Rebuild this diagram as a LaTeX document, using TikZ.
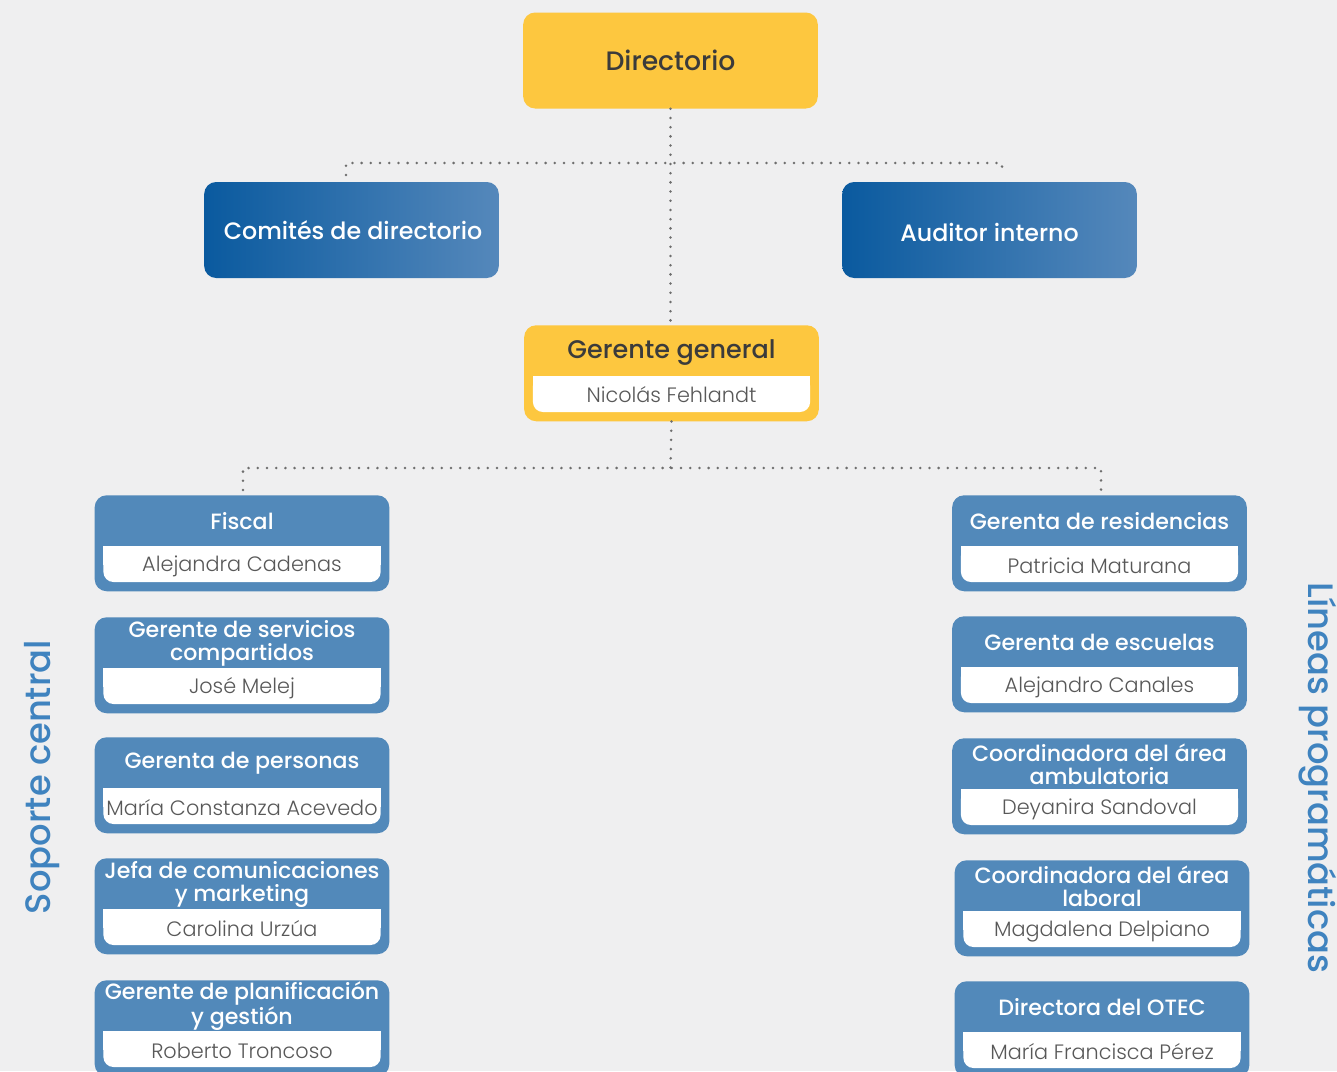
\documentclass[tikz,border=0pt]{standalone}
\usepackage{fontspec}
\setmainfont{Poppins}
\newfontfamily\medfont{Poppins Medium}
\newfontfamily\lightfont{Poppins Light}
\usetikzlibrary{calc}
\definecolor{bg}{HTML}{EFEFF0}
\definecolor{gold}{HTML}{FDC73F}
\definecolor{steel}{HTML}{5289BA}
\definecolor{navy}{HTML}{0A5A9F}
\definecolor{sky}{HTML}{5588BB}
\definecolor{ink}{HTML}{3B3B3B}
\definecolor{namegray}{HTML}{585858}
\definecolor{sidetext}{HTML}{3F83BF}
\definecolor{dotgray}{HTML}{6E6E6E}
\tikzset{
  goldbox/.style={fill=gold, rounded corners=9pt, minimum width=221pt, minimum height=72pt, inner sep=0pt},
  gradbox/.style={left color=navy, right color=sky, rounded corners=9pt, minimum width=221pt, minimum height=72pt, inner sep=0pt},
  bluebox/.style={fill=steel, rounded corners=9pt, minimum width=221pt, minimum height=72pt, inner sep=0pt},
  bar/.style={fill=white},
  ttl/.style={text=white, font=\medfont\fontsize{16.6}{17.25}\selectfont, align=center},
  ttlw/.style={text=white, font=\medfont\fontsize{17.8}{20}\selectfont},
  ttld/.style={text=ink, font=\medfont\fontsize{20}{22}\selectfont},
  nm/.style={text=namegray, font=\lightfont\fontsize{15.6}{18}\selectfont},
  dotline/.style={draw=dotgray, line width=2.1pt, line cap=round, dash pattern=on 0pt off 6.9pt},
  side/.style={text=sidetext, font=\medfont\fontsize{26.5}{30}\selectfont},
}
\begin{document}
\begin{tikzpicture}[x=0.75pt, y=-0.75pt]
  \useasboundingbox (0,0) rectangle (1337,1071);
  \clip (0,0) rectangle (1337,1071);
  \fill[bg] (0,0) rectangle (1337,1071);

  % top of the chart
  \node[goldbox, ttld] (direc) at (670.5,60.5) {Directorio};
  \node[gradbox] (comites) at (351.5,230) {};
  \node[ttlw] (comites-t) at (353,230) {Comités de directorio};
  \node[gradbox] (auditor) at (989.5,230) {};
  \node[ttlw] (auditor-t) at (989.5,232) {Auditor interno};

  % general manager
  \node[goldbox, anchor=north] (gg) at (671.5,325) {};
  \fill[bar, rounded corners=7.5pt] ($(gg.north west)+(9,51)$) rectangle ($(gg.north east)+(-9,87)$);
  \fill[bar] ($(gg.north west)+(9,51)$) rectangle ($(gg.north east)+(-9,70)$);
  \node[ttld, font=\medfont\fontsize{19.1}{22}\selectfont] (gg-t) at ($(gg.north)+(0,28)$) {Gerente general};
  \node[nm] (gg-p) at ($(gg.north)+(0,70)$) {Nicolás Fehlandt};

  % dotted connectors
  \coordinate (j1) at (670.5,163);
  \coordinate (c1) at (346,175);
  \coordinate (c2) at (1002,175);
  \coordinate (j2) at (670.5,468);
  \coordinate (s1) at (243,490);
  \coordinate (s2) at (1101,490);
  \draw[dotline] (direc.south) -- (direc.south |- gg.north);
  \draw[dotline] (c1) |- (j1) -| (c2);
  \draw[dotline] (gg.south) -- (j2);
  \draw[dotline] (s1) |- (j2) -| (s2);

  % units
  \foreach \n/\x/\y/\t/\p in {
    fiscal/242/495/{Fiscal}/{Alejandra Cadenas},
    servicios/242/617/{Gerente de servicios\\compartidos}/{José Melej},
    personas/242/737/{Gerenta de personas}/{María Constanza Acevedo},
    comunic/242/858/{Jefa de comunicaciones\\y marketing}/{Carolina Urzúa},
    planif/242/980/{Gerente de planificación\\y gestión}/{Roberto Troncoso},
    resid/1099.5/495/{Gerenta de residencias}/{Patricia Maturana},
    escuelas/1099.5/616/{Gerenta de escuelas}/{Alejandro Canales},
    ambul/1099.5/738/{Coordinadora del área\\ambulatoria}/{Deyanira Sandoval},
    laboral/1102/860/{Coordinadora del área\\laboral}/{Magdalena Delpiano},
    otec/1102/981/{Directora del OTEC}/{María Francisca Pérez}}{
    \node[bluebox, anchor=north] (\n) at (\x,\y) {};
    \fill[bar, rounded corners=7.5pt] ($(\n.north west)+(9,51)$) rectangle ($(\n.north east)+(-9,87)$);
    \fill[bar] ($(\n.north west)+(9,51)$) rectangle ($(\n.north east)+(-9,70)$);
    \node[ttl] (\n-t) at ($(\n.north)+(0,26.5)$) {\t};
    \node[nm] (\n-p) at ($(\n.north)+(0,71)$) {\p};
  }

  % side labels
  \node[side, rotate=90] (soporte) at (42,777) {Soporte central};
  \node[side, rotate=-90] (lineas) at (1318,778) {Líneas programáticas};
\end{tikzpicture}
\end{document}
